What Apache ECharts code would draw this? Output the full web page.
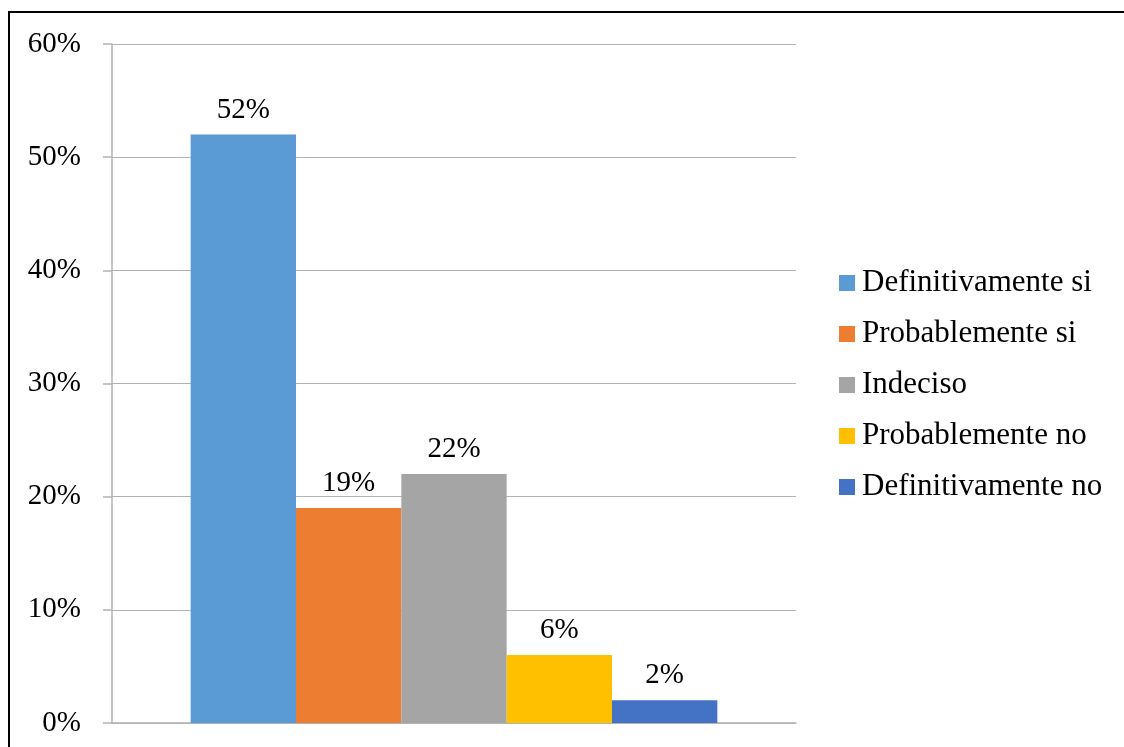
<!DOCTYPE html>
<html>
<head>
<meta charset="utf-8">
<script src="https://cdn.jsdelivr.net/npm/echarts@6/dist/echarts.min.js"></script>
<style>
html,body{margin:0;padding:0;background:#fff;overflow:hidden;}
#frame{position:absolute;left:8px;top:11px;width:1300px;height:900px;border:2px solid #000;box-sizing:border-box;}
#chart{position:absolute;left:0;top:0;width:1124px;height:747px;}
</style>
</head>
<body>
<div id="frame"></div>
<div id="chart"></div>
<script>
const categories = [''];
const seriesNames = ['Definitivamente si','Probablemente si','Indeciso','Probablemente no','Definitivamente no'];
const seriesValues = [52, 19, 22, 6, 2];
const seriesColors = ['#5B9BD5','#ED7D31','#A5A5A5','#FFC000','#4472C4'];
const yTicks = [0, 10, 20, 30, 40, 50, 60];

const font = 'Liberation Serif, Times New Roman, serif';
const chart = echarts.init(document.getElementById('chart'), null, {renderer:'canvas'});
chart.setOption({
  animation:false,
  backgroundColor:'transparent',
  grid:{left:112, right:328, top:44, bottom:24, containLabel:false},
  legend:{
    orient:'vertical', left:834, top:261,
    itemWidth:16, itemHeight:16, itemGap:17,
    icon:'rect',
    data:seriesNames,
    textStyle:{fontFamily:font, fontSize:31, color:'#000', lineHeight:34, padding:[0,0,0,2]}
  },
  xAxis:{
    type:'category', data:categories,
    axisLine:{show:true, lineStyle:{color:'#b3b3b3', width:1.5}},
    axisTick:{show:false}, axisLabel:{show:false}
  },
  yAxis:{
    type:'value', min:yTicks[0], max:yTicks[yTicks.length-1], interval:10,
    axisLine:{show:true, lineStyle:{color:'#b3b3b3', width:1.5}},
    axisTick:{show:true, length:9, lineStyle:{color:'#b3b3b3', width:1.5}},
    splitLine:{show:true, lineStyle:{color:'#b3b3b3', width:1.2}},
    axisLabel:{fontFamily:font, fontSize:29, color:'#000', margin:31, formatter:v=>v+'%'}
  },
  series: seriesNames.map((n,i)=>({
    name:n, type:'bar', data:[seriesValues[i]],
    barGap:'0%', barCategoryGap:'23%',
    itemStyle:{color:seriesColors[i]},
    label:{show:true, position:'top', distance:10, fontFamily:font, fontSize:29, color:'#000', formatter:p=>p.value+'%'}
  }))
});
</script>
</body>
</html>
